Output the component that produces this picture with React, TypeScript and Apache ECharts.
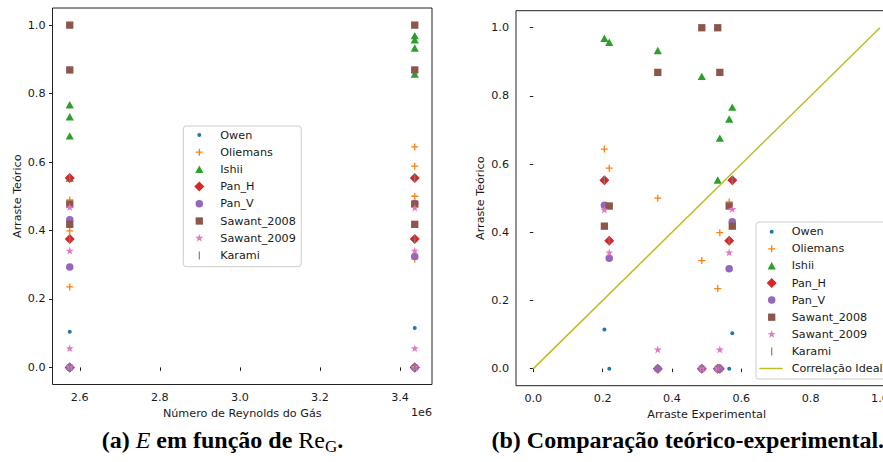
import React, { useEffect, useRef } from 'react';
import * as echarts from 'echarts';

// ---- data ----
const reynolds = [3.4367e6, 3.4367e6, 3.4367e6, 3.4367e6, 2.575e6, 2.575e6, 2.575e6, 2.575e6];
const experimental = [0.205, 0.219, 0.359, 0.486, 0.532, 0.538, 0.565, 0.574];
const owen = [0.115, 0, 0, 0, 0, 0, 0, 0.104];
const oliemans = [0.644, 0.588, 0.5, 0.317, 0.235, 0.399, 0.489, 0.553];
const ishii = [0.969, 0.957, 0.933, 0.857, 0.553, 0.676, 0.732, 0.767];
const panH = [0.553, 0.375, 0, 0, 0, 0, 0.375, 0.553];
const panV = [0.479, 0.324, 0, 0, 0, 0, 0.293, 0.431];
const sawant2008 = [0.418, 0.477, 0.869, 1.0, 1.0, 0.869, 0.477, 0.418];
const sawant2009 = [0.465, 0.34, 0.055, 0, 0, 0.055, 0.34, 0.467];
const karami = [0.553, 0.375, 0, 0, 0, 0, 0.375, 0.553];
const idealX = [0, 1];
const idealY = [0, 1];
const modelNames = ['Owen', 'Oliemans', 'Ishii', 'Pan_H', 'Pan_V', 'Sawant_2008', 'Sawant_2009', 'Karami'];
const modelValues = [owen, oliemans, ishii, panH, panV, sawant2008, sawant2009, karami];
const idealName = 'Correlação Ideal';
const valueTicks = [0, 0.2, 0.4, 0.6, 0.8, 1.0];
const reynoldsTicks = [2.6e6, 2.8e6, 3.0e6, 3.2e6, 3.4e6];

// ---- styles ----
const colors = ['#1f77b4', '#ff7f0e', '#2ca02c', '#d62728', '#9467bd', '#8c564b', '#e377c2', '#7f7f7f'];
const idealColor = '#bcbd22';
const f = (n: number) => n.toFixed(3);
function circle(cx: number, r: number) {
  return `M${f(cx - r)},5A${r},${r},0,1,0,${f(cx + r)},5A${r},${r},0,1,0,${f(cx - r)},5Z`;
}
function plus(cx: number) {
  const h = 3.5, t = 0.65;
  return `M${f(cx - h)},${f(5 - t)}H${f(cx - t)}V${f(5 - h)}H${f(cx + t)}V${f(5 - t)}H${f(cx + h)}V${f(5 + t)}H${f(cx + t)}V${f(5 + h)}H${f(cx - t)}V${f(5 + t)}H${f(cx - h)}Z`;
}
function triangle(cx: number) {
  return `M${f(cx)},1.2L${f(cx + 4.1)},8.6H${f(cx - 4.1)}Z`;
}
function diamond(cx: number) {
  return `M${f(cx)},0L${f(cx + 5)},5L${f(cx)},10L${f(cx - 5)},5Z`;
}
function square(cx: number) {
  return `M${f(cx - 3.65)},1.35H${f(cx + 3.65)}V8.65H${f(cx - 3.65)}Z`;
}
function star(cx: number) {
  const R = 4.3, r = R * 0.382;
  let d = '';
  for (let i = 0; i < 10; i++) {
    const rad = i % 2 === 0 ? R : r;
    const a = -Math.PI / 2 + (i * Math.PI) / 5;
    d += (i === 0 ? 'M' : 'L') + f(cx + rad * Math.cos(a)) + ',' + f(5 + rad * Math.sin(a));
  }
  return d + 'Z';
}
function vbar(cx: number) {
  return `M${f(cx - 0.6)},1H${f(cx + 0.6)}V9H${f(cx - 0.6)}Z`;
}
const shapes = [
  (cx: number) => circle(cx, 2),
  plus,
  triangle,
  diamond,
  (cx: number) => circle(cx, 3.75),
  square,
  star,
  vbar,
];
// series symbol: 10x10 box centred on the point
const seriesSymbol = (i: number) => 'path://M0,0M10,10' + shapes[i](5);
// legend icon: a box of the legend item width, marker placed where matplotlib puts it
const legendSymbol = (i: number, w: number, cx: number) => `path://M0,0M${w},10` + shapes[i](cx);
const legendLine = (w: number, len: number) => `path://M0,0M${w},10M0,4.25H${len}V5.75H0Z`;

const FONT = 'DejaVu Sans';
const TXT = '#1a1a1a';
const FRAME = '#222';

function paddedRange(vals: number[]): [number, number] {
  const lo = Math.min(...vals), hi = Math.max(...vals);
  const m = (hi - lo) * 0.05;
  return [lo - m, hi + m];
}

function valueAxis(gridIndex: number, range: [number, number], ticks: number[], fmt: (v: number) => string, name: string, nameGap: number) {
  return {
    type: 'value',
    gridIndex,
    min: range[0],
    max: range[1],
    axisLine: { show: false },
    splitLine: { show: false },
    axisTick: { show: true, length: 3.5, lineStyle: { color: FRAME, width: 1 }, customValues: ticks },
    axisLabel: { customValues: ticks, formatter: fmt, margin: 7, fontFamily: FONT, fontSize: 11.2, color: TXT },
    name,
    nameLocation: 'middle',
    nameGap,
    nameTextStyle: { fontFamily: FONT, fontSize: 11.2, color: TXT },
  };
}

function captionPieces(parts: { t: string; w: string; s: string; size: number; dy: number }[], x0: number, yMid: number) {
  const ctx = document.createElement('canvas').getContext('2d')!;
  const els: any[] = [];
  let x = x0;
  for (const p of parts) {
    ctx.font = `${p.s} ${p.w} ${p.size}px "Liberation Serif"`;
    const lead = p.t.length - p.t.trimStart().length;
    const leadW = lead ? ctx.measureText(p.t.slice(0, lead)).width : 0;
    const txt = p.t.trim();
    if (txt) {
      els.push({
        type: 'text',
        x: x + leadW,
        y: yMid + p.dy,
        style: {
          text: txt,
          fontFamily: 'Liberation Serif',
          fontSize: p.size,
          fontWeight: p.w,
          fontStyle: p.s,
          fill: '#000',
          align: 'left',
          verticalAlign: 'middle',
        },
      });
    }
    x += ctx.measureText(p.t).width;
  }
  return els;
}

export default function App() {
  const ref = useRef<HTMLDivElement>(null);
  useEffect(() => {
    if (!ref.current) return;
    const chart = echarts.init(ref.current, undefined, { renderer: 'svg' });
    const yRange = paddedRange([...modelValues.flat()]);
    const reRange = paddedRange(reynolds);
    const expRange = paddedRange([...experimental, ...idealX]);
    const fmt1 = (v: number) => v.toFixed(1);
    const fmtRe = (v: number) => (v / 1e6).toFixed(1);

    const series: any[] = [];
    modelNames.forEach((name, i) => {
      series.push({
        type: 'scatter', name, xAxisIndex: 0, yAxisIndex: 0,
        data: reynolds.map((r, j) => [r, modelValues[i][j]]),
        symbol: seriesSymbol(i), symbolSize: 10, itemStyle: { color: colors[i], opacity: 1 },
      });
    });
    modelNames.forEach((name, i) => {
      series.push({
        type: 'scatter', name, xAxisIndex: 1, yAxisIndex: 1,
        data: experimental.map((e, j) => [e, modelValues[i][j]]),
        symbol: seriesSymbol(i), symbolSize: 10, itemStyle: { color: colors[i], opacity: 1 },
      });
    });
    series.push({
      type: 'line', name: idealName, xAxisIndex: 1, yAxisIndex: 1,
      data: idealX.map((x, i) => [x, idealY[i]]),
      symbol: 'none', showSymbol: false,
      lineStyle: { color: idealColor, width: 1.5 }, itemStyle: { color: idealColor },
    });

    const legendBase = {
      orient: 'vertical',
      selectedMode: false,
      itemHeight: 10,
      backgroundColor: 'rgba(255,255,255,0.8)',
      borderColor: '#cccccc',
      borderWidth: 1,
      borderRadius: 3,
      textStyle: { fontFamily: FONT, fontSize: 11.2, color: TXT, lineHeight: 12 },
    };
    const wL = 27.5, wR = 27.4;

    const captionA = captionPieces([
      { t: '(a) ', w: 'bold', s: 'normal', size: 24, dy: 0 },
      { t: 'E', w: 'normal', s: 'italic', size: 24, dy: 0 },
      { t: ' em função de ', w: 'bold', s: 'normal', size: 24, dy: 0 },
      { t: 'Re', w: 'normal', s: 'normal', size: 24, dy: 0 },
      { t: 'G', w: 'normal', s: 'normal', size: 17, dy: 6 },
      { t: '.', w: 'bold', s: 'normal', size: 24, dy: 0 },
    ], 101.7, 440.2);
    const captionB = captionPieces([
      { t: '(b) Comparação teórico-experimental.', w: 'bold', s: 'normal', size: 24, dy: 0 },
    ], 491.5, 440.2);

    chart.setOption({
      animation: false,
      grid: [
        { left: 52.5, top: 8, width: 379.5, height: 376.5, show: true, borderColor: FRAME, borderWidth: 1, backgroundColor: 'transparent' },
        { left: 516, top: 10.7, width: 381.3, height: 375, show: true, borderColor: FRAME, borderWidth: 1, backgroundColor: 'transparent' },
      ],
      xAxis: [
        valueAxis(0, reRange, reynoldsTicks, fmtRe, 'Número de Reynolds do Gás', 23),
        valueAxis(1, expRange, valueTicks, fmt1, 'Arraste Experimental', 22.5),
      ],
      yAxis: [
        valueAxis(0, yRange, valueTicks, fmt1, 'Arraste Teórico', 30),
        valueAxis(1, yRange, valueTicks, fmt1, 'Arraste Teórico', 30.5),
      ],
      legend: [
        {
          ...legendBase,
          left: 183.3, top: 126,
          itemWidth: wL,
          padding: [3, 5.4, 5.3, 4.5],
          itemGap: 5.2,
          data: modelNames.map((name, i) => ({ name, icon: legendSymbol(i, wL, 11.5) })),
        },
        {
          ...legendBase,
          left: 756, top: 222,
          itemWidth: wR,
          padding: [3.7, 5, 4.5, 3.3],
          itemGap: 5.1,
          data: [
            ...modelNames.map((name, i) => ({ name, icon: legendSymbol(i, wR, 12.4) })),
            { name: idealName, icon: legendLine(wR, 23.4) },
          ],
        },
      ],
      graphic: [
        {
          type: 'text', x: 432, y: 412.3,
          style: { text: '1e6', fontFamily: FONT, fontSize: 11.2, fill: TXT, align: 'right', verticalAlign: 'middle' },
        },
        ...captionA,
        ...captionB,
      ],
      series,
    });
    return () => chart.dispose();
  }, []);
  return (
    <div style={{ position: 'absolute', left: 0, top: 0, width: 883, height: 462, overflow: 'hidden', background: '#fff' }}>
      <div ref={ref} style={{ width: 905, height: 462 }} />
    </div>
  );
}
